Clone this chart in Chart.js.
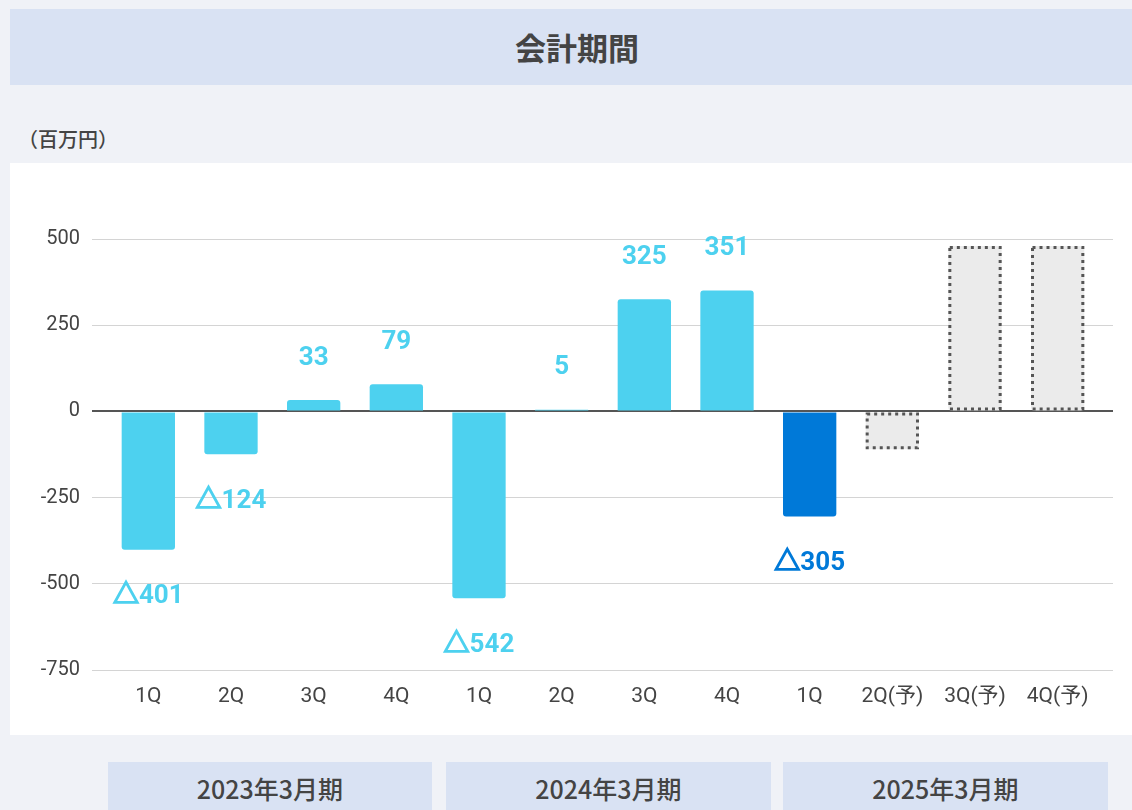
<!DOCTYPE html>
<html lang="ja">
<head>
<meta charset="utf-8">
<title>会計期間</title>
<script src="https://cdn.jsdelivr.net/npm/chart.js@4"></script>
<style>
    html, body {
        margin: 0;
        padding: 0;
        width: 1132px;
        height: 810px;
        overflow: hidden;
        background: #f0f2f7;
        font-family: Roboto, "Noto Sans CJK JP", sans-serif;
    }
    .header {
        position: absolute;
        left: 10px;
        top: 9px;
        width: 1134px;
        height: 76px;
        background: #d9e2f3;
        color: #444;
        font-size: 31px;
        font-weight: bold;
        line-height: 76px;
        text-align: center;
        font-family: "Noto Sans CJK JP", sans-serif;
    }
    .unit {
        position: absolute;
        left: 18px;
        top: 124px;
        font-size: 20px;
        font-weight: 500;
        color: #444;
        font-family: "Noto Sans CJK JP", sans-serif;
    }
    .panel {
        position: absolute;
        left: 10px;
        top: 163px;
        width: 1122px;
        height: 572px;
        background: #fff;
    }
    .period {
        position: absolute;
        top: 762px;
        height: 52px;
        line-height: 52px;
        background: #d9e2f3;
        color: #444;
        font-size: 25px;
        font-weight: 500;
        text-align: center;
        font-family: "Noto Sans CJK JP", sans-serif;
    }
</style>
</head>
<body>
<div class="header">会計期間</div>
<div class="unit">（百万円）</div>
<div class="panel"><canvas id="profitChart" width="1122" height="572"></canvas></div>
<div id="periods"></div>

<script>
// 四半期ラベル
const quarterLabels = ['1Q', '2Q', '3Q', '4Q', '1Q', '2Q', '3Q', '4Q', '1Q', '2Q(予)', '3Q(予)', '4Q(予)'];
// 実績（百万円）
const actualValues = [-401, -124, 33, 79, -542, 5, 325, 351, -305, null, null, null];
// 予想（百万円）
const forecastValues = [null, null, null, null, null, null, null, null, null, -110, 480, 480];
// 決算期
const fiscalPeriods = ['2023年3月期', '2024年3月期', '2025年3月期'];
const periodBoxes = [[108, 324], [446, 325], [783, 325]];
// y軸目盛り
const yTicks = [-750, -500, -250, 0, 250, 500];

const LIGHT = '#4dd1ef';
const DARK = '#0079d8';
const barColors = actualValues.map((v, i) => i === 8 ? DARK : LIGHT);

// 決算期ボックス
const periodsEl = document.getElementById('periods');
fiscalPeriods.forEach((name, i) => {
    const div = document.createElement('div');
    div.className = 'period';
    div.style.left = periodBoxes[i][0] + 'px';
    div.style.width = periodBoxes[i][1] + 'px';
    div.textContent = name;
    periodsEl.appendChild(div);
});

// 値ラベル・予想バーの点線枠
const barExtras = {
    id: 'barExtras',
    afterDatasetsDraw(chart) {
        const ctx = chart.ctx;
        // 予想バーの点線
        chart.getDatasetMeta(1).data.forEach((bar, i) => {
            if (forecastValues[i] == null) return;
            const p = bar.getProps(['x', 'y', 'base', 'width'], true);
            const top = Math.min(p.y, p.base);
            const h = Math.abs(p.base - p.y);
            ctx.save();
            ctx.strokeStyle = '#555';
            ctx.lineWidth = 3;
            ctx.setLineDash([3, 4]);
            ctx.strokeRect(p.x - p.width / 2 + 1.5, top + 1.5, p.width - 3, h - 3);
            ctx.restore();
        });
        // 実績ラベル（マイナスは△表記）
        chart.getDatasetMeta(0).data.forEach((bar, i) => {
            const v = actualValues[i];
            if (v == null) return;
            const p = bar.getProps(['x', 'y'], true);
            const num = String(Math.abs(v));
            const mark = v < 0 ? '△' : '';
            const y = v < 0 ? p.y + 47 : p.y - 42;
            ctx.save();
            ctx.fillStyle = barColors[i];
            ctx.strokeStyle = barColors[i];
            ctx.font = 'bold 26px Roboto, "Noto Sans CJK JP", sans-serif';
            ctx.textBaseline = 'middle';
            const markW = mark ? ctx.measureText(mark).width : 0;
            const numW = ctx.measureText(num).width;
            const left = p.x - (markW + numW) / 2;
            ctx.textAlign = 'left';
            if (mark) {
                ctx.lineWidth = 1.6;
                ctx.fillText(mark, left, y);
                ctx.strokeText(mark, left, y);
            }
            ctx.fillText(num, left + markW, y);
            ctx.restore();
        });
    }
};

const gridColor = ctx => ctx.tick && ctx.tick.value === 0 ? '#555' : '#d4d4d4';
const gridWidth = ctx => ctx.tick && ctx.tick.value === 0 ? 2 : 1;

new Chart(document.getElementById('profitChart'), {
    type: 'bar',
    data: {
        labels: quarterLabels,
        datasets: [{
            label: '実績',
            data: actualValues,
            backgroundColor: barColors,
            borderRadius: 3,
            borderSkipped: 'start',
            barPercentage: 0.645,
            categoryPercentage: 1,
            grouped: false
        }, {
            label: '予想',
            data: forecastValues,
            backgroundColor: '#ebebeb',
            borderRadius: 3,
            borderSkipped: false,
            barPercentage: 0.645,
            categoryPercentage: 1,
            grouped: false
        }]
    },
    options: {
        responsive: false,
        animation: false,
        layout: {
            padding: { top: 76, left: 0, right: 0, bottom: 0 }
        },
        plugins: {
            legend: { display: false },
            tooltip: { enabled: false }
        },
        scales: {
            x: {
                grid: { display: false },
                border: { display: false },
                ticks: {
                    color: '#444',
                    padding: 6,
                    maxRotation: 0,
                    autoSkip: false,
                    font: { size: 21, family: 'Roboto, "Noto Sans CJK JP", sans-serif' }
                },
                afterFit(scale) { scale.height = 65; }
            },
            y: {
                min: -750,
                max: 500,
                afterBuildTicks(scale) { scale.ticks = yTicks.map(v => ({ value: v })); },
                border: { display: false },
                grid: {
                    color: gridColor,
                    lineWidth: gridWidth,
                    tickLength: 15,
                    tickColor: gridColor
                },
                ticks: {
                    color: '#444',
                    padding: 12,
                    font: { size: 20, family: 'Roboto, sans-serif' }
                },
                afterFit(scale) { scale.width = 97; }
            },
            yRight: {
                position: 'right',
                min: -750,
                max: 500,
                afterBuildTicks(scale) { scale.ticks = yTicks.map(v => ({ value: v })); },
                border: { display: false },
                grid: {
                    drawOnChartArea: false,
                    color: gridColor,
                    lineWidth: gridWidth,
                    tickLength: 14,
                    tickColor: gridColor
                },
                ticks: { display: false },
                afterFit(scale) { scale.width = 33; }
            }
        }
    },
    plugins: [barExtras]
});
</script>
</body>
</html>
